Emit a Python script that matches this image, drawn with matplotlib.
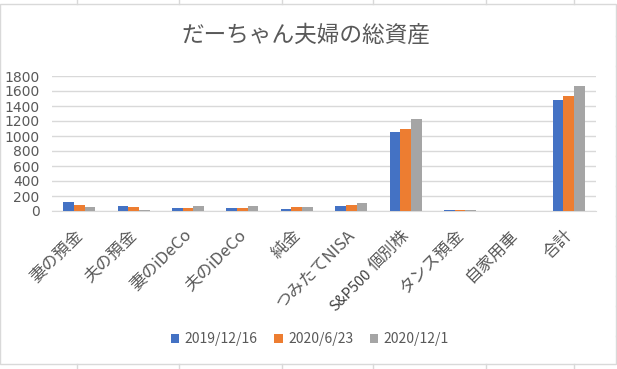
import matplotlib.pyplot as plt
import numpy as np
from matplotlib.patches import Rectangle
from matplotlib.lines import Line2D
import matplotlib.transforms as mtransforms

plt.rcParams['font.family'] = ['Noto Sans CJK JP', 'DejaVu Sans']

categories = ['妻の預金', '夫の預金', '妻のiDeCo', '夫のiDeCo', '純金',
              'つみたてNISA', '個別株', 'タンス預金', '自家用車', '合計']
dates = ['2019/12/16', '2020/6/23', '2020/12/1']
v_2019_12_16 = [122, 68, 40, 40, 27, 67, 1053, 12, 0, 1480]
v_2020_06_23 = [83, 55, 40, 40, 55, 80, 1093, 12, 0, 1533]
v_2020_12_01 = [55, 15, 67, 67, 55, 107, 1227, 12, 0, 1667]
colors = ['#4472C4', '#ED7D31', '#A5A5A5']

W, H = 617, 369
fig = plt.figure(figsize=(W / 100, H / 100), dpi=100)
ax = fig.add_axes([52 / W, 1 - 211 / H, (596 - 52) / W, (211 - 76) / H])

x = np.arange(len(categories))
bw = 0.196
for k, (vals, c, lab) in enumerate(zip([v_2019_12_16, v_2020_06_23, v_2020_12_01], colors, dates)):
    ax.bar(x + (k - 1) * bw, vals, bw, color=c, label=lab, zorder=3)

ax.set_xlim(-0.5, len(categories) - 0.5)
ax.set_ylim(0, 1800)
ax.set_yticks(range(0, 1801, 200))
ax.grid(axis='y', color='#D9D9D9', lw=1, zorder=0)
for s in ['top', 'right', 'left']:
    ax.spines[s].set_visible(False)
ax.spines['bottom'].set_color('#D9D9D9')
ax.tick_params(axis='y', length=0, pad=9, labelsize=10, labelcolor='#595959')
for t in ax.get_yticklabels():
    t.set_family('DejaVu Sans')
ax.tick_params(axis='x', length=0, pad=4)
ax.set_xticks(x)
ax.set_xticklabels(categories, rotation=45, ha='right', va='top',
                   rotation_mode='anchor', fontsize=12, color='#595959')
shift = mtransforms.ScaledTranslation(-5 / 100, -10 / 100, fig.dpi_scale_trans)
for t in ax.get_xticklabels():
    t.set_transform(t.get_transform() + shift)

# extra text box laid over the chart
trans = mtransforms.blended_transform_factory(ax.transData, fig.transFigure)
ax.text(5.25, 1 - 267 / H, 'S&P500', transform=trans, rotation=45, ha='right', va='top',
        rotation_mode='anchor', fontsize=10.5, color='#404040')

fig.text(306 / W, 1 - 35 / H, 'だーちゃん夫婦の総資産', ha='center', va='center',
         fontsize=16.3, color='#595959')

leg = fig.legend(loc='center', bbox_to_anchor=(310 / W, 1 - 339 / H), ncol=3, frameon=False,
                 fontsize=10, handlelength=0.6, handleheight=0.6, handletextpad=0.4,
                 columnspacing=1.2)
for t in leg.get_texts():
    t.set_color('#595959')

# chart border and sheet cell lines
fig.add_artist(Rectangle((0, 1 - 364 / H), 616 / W, 360 / H, transform=fig.transFigure,
                         fill=False, ec='#D9D9D9', lw=1))
for cx in [77, 179, 282, 373, 486, 574]:
    fig.add_artist(Line2D([cx / W, cx / W], [0, 1 - 364 / H], transform=fig.transFigure,
                          color='#D9D9D9', lw=1))
    fig.add_artist(Line2D([cx / W, cx / W], [1 - 4 / H, 1], transform=fig.transFigure,
                          color='#D9D9D9', lw=1))
for ry in range(36, 364, 30):
    fig.add_artist(Line2D([616 / W, 1], [1 - ry / H, 1 - ry / H], transform=fig.transFigure,
                          color='#D9D9D9', lw=1))

fig.savefig('out.png', dpi=100)
